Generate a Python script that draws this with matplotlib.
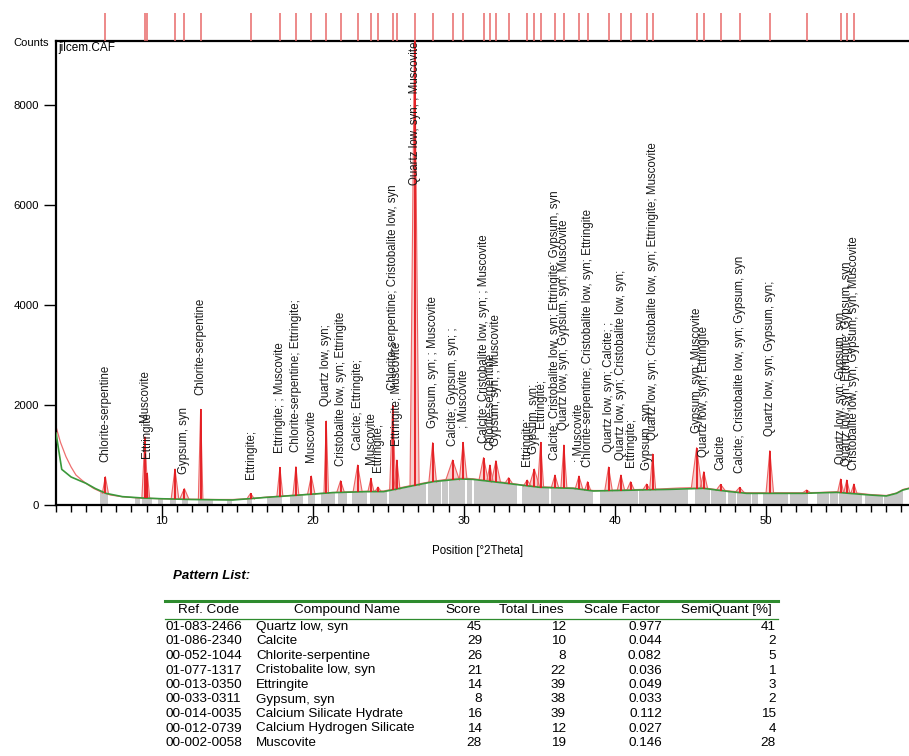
import matplotlib
matplotlib.use("Agg")
import matplotlib.pyplot as plt
from matplotlib.ticker import MultipleLocator
from matplotlib.lines import Line2D

plt.rcParams['font.family'] = ['Liberation Sans', 'DejaVu Sans']

# peak list (position in deg 2theta, top counts, base counts, half width of base)
peak_pos = [6.27, 8.89, 9.05, 10.88, 11.50, 12.58, 15.89, 17.83, 18.89, 19.91,
            20.90, 21.85, 22.98, 23.86, 24.33, 25.30, 25.58, 26.75, 27.95, 29.27,
            29.97, 31.32, 31.74, 32.14, 32.98, 34.21, 34.68, 35.10, 36.05, 36.64,
            37.64, 38.21, 39.60, 40.42, 41.06, 42.12, 42.52, 45.43, 45.91, 47.02,
            48.28, 50.28, 52.72, 54.97, 55.38, 55.85]
peak_height = [567, 1367, 640, 720, 330, 1913, 233, 753, 767, 580,
               1680, 487, 800, 533, 360, 2000, 900, 9600, 1250, 900,
               1253, 950, 800, 887, 547, 500, 720, 1253, 600, 1200,
               580, 467, 760, 600, 467, 420, 1020, 1147, 667, 413,
               353, 1087, 300, 520, 500, 420]
peak_base = [235, 145, 145, 125, 120, 115, 120, 170, 190, 210,
             235, 255, 265, 268, 270, 300, 320, 390, 460, 500,
             520, 500, 480, 460, 430, 380, 365, 350, 340, 335,
             320, 295, 285, 290, 295, 300, 305, 330, 330, 290,
             250, 240, 235, 250, 245, 235]
peak_hw = [0.2, 0.2, 0.15, 0.25, 0.3, 0.15, 0.25, 0.2, 0.2, 0.25,
           0.15, 0.25, 0.3, 0.2, 0.2, 0.2, 0.2, 0.3, 0.25, 0.45,
           0.25, 0.3, 0.2, 0.3, 0.25, 0.25, 0.35, 0.2, 0.25, 0.2,
           0.25, 0.2, 0.25, 0.25, 0.25, 0.25, 0.2, 0.35, 0.25, 0.3,
           0.3, 0.25, 0.3, 0.2, 0.2, 0.2]
peak_labels = [
    "Chlorite-serpentine", "Muscovite", "Ettringite", "", "Gypsum, syn",
    "Chlorite-serpentine", "Ettringite;", "Ettringite; ; Muscovite",
    "Chlorite-serpentine; Ettringite;", "Muscovite", "Quartz low, syn;",
    "Cristobalite low, syn; Ettringite", "Calcite; Ettringite;", "Muscovite",
    "Ettringite;", "Chlorite-serpentine; Cristobalite low, syn",
    "Ettringite; Muscovite", "Quartz low, syn; ; Muscovite",
    "Gypsum, syn; ; Muscovite", "Calcite; Gypsum, syn; ;", "; Muscovite",
    "Calcite; Cristobalite low, syn; ; Muscovite", "Chlorite-serpentine",
    "Gypsum, syn; ; Muscovite", "", "Ettringite;", "Gypsum, syn;", "Ettringite;",
    "Calcite; Cristobalite low, syn; Ettringite; Gypsum, syn",
    "Quartz low, syn; Gypsum, syn; Muscovite", "; Muscovite",
    "Chlorite-serpentine; Cristobalite low, syn; Ettringite",
    "Quartz low, syn; Calcite; ;", "Quartz low, syn; Cristobalite low, syn;",
    "Ettringite;", "Gypsum, syn",
    "Quartz low, syn; Cristobalite low, syn; Ettringite; Muscovite",
    "Gypsum, syn; Muscovite", "Quartz low, syn; Ettringite", "Calcite",
    "Calcite; Cristobalite low, syn; Gypsum, syn", "Quartz low, syn; Gypsum, syn;",
    "", "Quartz low, syn; Gypsum, syn", "Quartz low, syn; Ettringite; Gypsum, syn",
    "Cristobalite low, syn; Gypsum, syn; Muscovite"]

# observed continuum between the peaks
obs_x = [3.0, 3.3, 3.66, 4.0, 4.32, 4.7, 5.0, 5.5, 6.0, 6.6, 7.4, 8.5, 10.0, 12.0,
         13.5, 14.7, 16.0, 17.0, 18.0, 19.2, 20.3, 21.3, 22.5, 23.6, 24.7, 25.8,
         27.0, 28.0, 28.8, 29.75, 30.6, 31.6, 32.85, 34.0, 35.05, 36.2, 37.26,
         38.58, 39.5, 40.5, 41.67, 43.0, 44.3, 45.0, 45.87, 46.7, 47.63, 48.74,
         50.5, 52.49, 53.5, 54.7, 56.0, 56.9, 58.0, 58.67, 59.1, 59.5]
obs_y = [1567, 1250, 967, 760, 600, 500, 430, 330, 260, 200, 165, 140, 125, 115,
         110, 110, 130, 160, 180, 205, 225, 250, 265, 275, 280, 345,
         420, 475, 510, 540, 525, 490, 445, 395, 365, 350, 340,
         290, 290, 300, 310, 320, 340, 345, 345, 310, 280, 245,
         245, 245, 250, 265, 240, 210, 190, 240, 310, 340]

# fitted background
bg_x = [3.0, 3.38, 4.0, 4.99, 5.6, 6.31, 7.4, 8.74, 10.0, 12.0, 14.7, 16.95, 19.2,
        21.3, 23.6, 24.7, 25.8, 28.0, 29.75, 30.6, 32.85, 35.05, 37.26, 38.58,
        41.67, 43.67, 45.87, 47.63, 48.74, 52.49, 54.7, 56.9, 58.0, 58.67, 59.1, 59.5]
bg_y = [1440, 713, 560, 433, 330, 233, 167, 140, 125, 110, 100, 153, 200,
        247, 267, 267, 333, 467, 520, 513, 433, 353, 333, 280,
        300, 313, 333, 267, 233, 233, 253, 200, 180, 233, 300, 330]

# gaps in the grey peak-region band
gaps = [(3.0, 5.91), (6.46, 8.23), (8.56, 8.68), (9.34, 9.74), (10.11, 10.55),
        (10.95, 11.32), (11.76, 12.42), (13.42, 14.30), (14.64, 15.63), (15.96, 16.95),
        (17.95, 18.50), (19.38, 19.71), (20.15, 20.55), (21.48, 21.70), (22.25, 22.58),
        (23.58, 23.80), (24.90, 25.05), (27.50, 27.62), (28.50, 28.60), (28.95, 29.05),
        (30.10, 30.20), (30.58, 30.68), (33.51, 33.84), (35.68, 35.76), (38.58, 39.02),
        (41.53, 41.60), (44.87, 45.31), (46.30, 46.38), (47.40, 47.48), (48.05, 48.12),
        (49.04, 49.11), (49.51, 49.84), (51.50, 51.61), (52.82, 53.38), (54.22, 54.28),
        (54.78, 54.85), (56.36, 56.58), (57.76, 57.83), (59.09, 59.5)]

# pattern list table
col_names = ["Ref. Code", "Compound Name", "Score", "Total Lines", "Scale Factor", "SemiQuant [%]"]
ref_codes = ["01-083-2466", "01-086-2340", "00-052-1044", "01-077-1317", "00-013-0350",
             "00-033-0311", "00-014-0035", "00-012-0739", "00-002-0058"]
compounds = ["Quartz low, syn", "Calcite", "Chlorite-serpentine", "Cristobalite low, syn",
             "Ettringite", "Gypsum, syn", "Calcium Silicate Hydrate",
             "Calcium Hydrogen Silicate", "Muscovite"]
scores = [45, 29, 26, 21, 14, 8, 16, 14, 28]
total_lines = [12, 10, 8, 22, 39, 38, 39, 12, 19]
scale_factors = ["0.977", "0.044", "0.082", "0.036", "0.049", "0.033", "0.112", "0.027", "0.146"]
semiquant = [41, 2, 5, 1, 3, 2, 15, 4, 28]

W, H = 909, 756
def fx(px):
    return px / W
def fy(py):
    return 1 - py / H

fig = plt.figure(figsize=(W / 100, H / 100), dpi=100)
x0, x1 = 3.0, 59.5
ymax = 9280

ax = fig.add_axes([fx(56), fy(505), 1 - fx(56), (505 - 41) / H])
ax.set_xlim(x0, x1)
ax.set_ylim(0, ymax)

# grey band under the background, white gaps on top of it
ax.fill_between(bg_x, 0, bg_y, color='#c8c8c8', lw=0, zorder=1)
ax.bar([g[0] for g in gaps], 2000, width=[g[1] - g[0] for g in gaps],
       align='edge', color='white', lw=0, zorder=1.2)

ax.plot(obs_x, obs_y, color='#ee7070', lw=0.9, zorder=2)
for p, h, b, w in zip(peak_pos, peak_height, peak_base, peak_hw):
    ax.fill([p - w, p, p + w], [b, h, b], color='#f4b0b0', alpha=0.6, lw=0, zorder=2)
    ax.plot([p - w, p, p + w], [b, h, b], color='#ee6464', lw=0.8, zorder=2.5)
ax.plot(bg_x, bg_y, color='#3a983a', lw=1.2, zorder=3)
ax.vlines(peak_pos, peak_base, peak_height, colors='#e3171c', lw=1.3, zorder=4)

# peak labels
for p, h, lab in zip(peak_pos, peak_height, peak_labels):
    if not lab:
        continue
    if h > ymax:
        ax.text(p, ymax * 0.998, lab, rotation=90, ha='center', va='top',
                fontsize=8.3, color='#1a1a1a', zorder=5)
    else:
        ax.text(p, h + 290, lab, rotation=90, ha='center', va='bottom',
                fontsize=8.3, color='#1a1a1a', zorder=5)

ax.spines['right'].set_visible(False)
for s in ['left', 'bottom', 'top']:
    ax.spines[s].set_linewidth(1.6)
ax.xaxis.set_major_locator(MultipleLocator(10))
ax.xaxis.set_minor_locator(MultipleLocator(1))
ax.set_yticks([0, 2000, 4000, 6000, 8000])
ax.tick_params(axis='x', which='major', length=10, width=1, direction='out', labelsize=8.2, pad=-2)
ax.tick_params(axis='x', which='minor', length=5, width=1, direction='out')
ax.tick_params(axis='y', which='major', length=9, width=1, direction='out', labelsize=8.2, pad=3)
ax.text(0.003, 0.998, "jilcem.CAF", transform=ax.transAxes, ha='left', va='top', fontsize=8.5)

# reference line strip above the plot
ax2 = fig.add_axes([fx(56), fy(41), 1 - fx(56), 28 / H])
ax2.set_xlim(x0, x1)
ax2.set_ylim(0, 1)
ax2.vlines(peak_pos, 0, 1, colors='#e86a6a', lw=1.1)
ax2.axis('off')

fig.text(fx(13), fy(43), "Counts", ha='left', va='center', fontsize=8)
fig.text(fx(478), fy(551), "Position [\u00b02Theta]", ha='center', va='center', fontsize=8.3)
fig.text(fx(173), fy(576), "Pattern List:", ha='left', va='center', fontsize=9.5,
         fontweight='bold', fontstyle='italic')

# table
fig.add_artist(Line2D([fx(165), fx(778)], [fy(601), fy(601)], color='#2e8b2e', lw=2.2))
fig.add_artist(Line2D([fx(165), fx(778)], [fy(618.5), fy(618.5)], color='#2e8b2e', lw=0.9))
hdr_x = [208, 347, 463, 531, 622, 726]
for cx, name in zip(hdr_x, col_names):
    fig.text(fx(cx), fy(610), name, ha='center', va='center', fontsize=9.7)
for i in range(len(ref_codes)):
    yy = fy(627 + 14.5 * i)
    fig.text(fx(166), yy, ref_codes[i], ha='left', va='center', fontsize=9.7)
    fig.text(fx(256), yy, compounds[i], ha='left', va='center', fontsize=9.7)
    fig.text(fx(482), yy, str(scores[i]), ha='right', va='center', fontsize=9.7)
    fig.text(fx(566), yy, str(total_lines[i]), ha='right', va='center', fontsize=9.7)
    fig.text(fx(662), yy, scale_factors[i], ha='right', va='center', fontsize=9.7)
    fig.text(fx(776), yy, str(semiquant[i]), ha='right', va='center', fontsize=9.7)

fig.savefig("out.png", dpi=100)
